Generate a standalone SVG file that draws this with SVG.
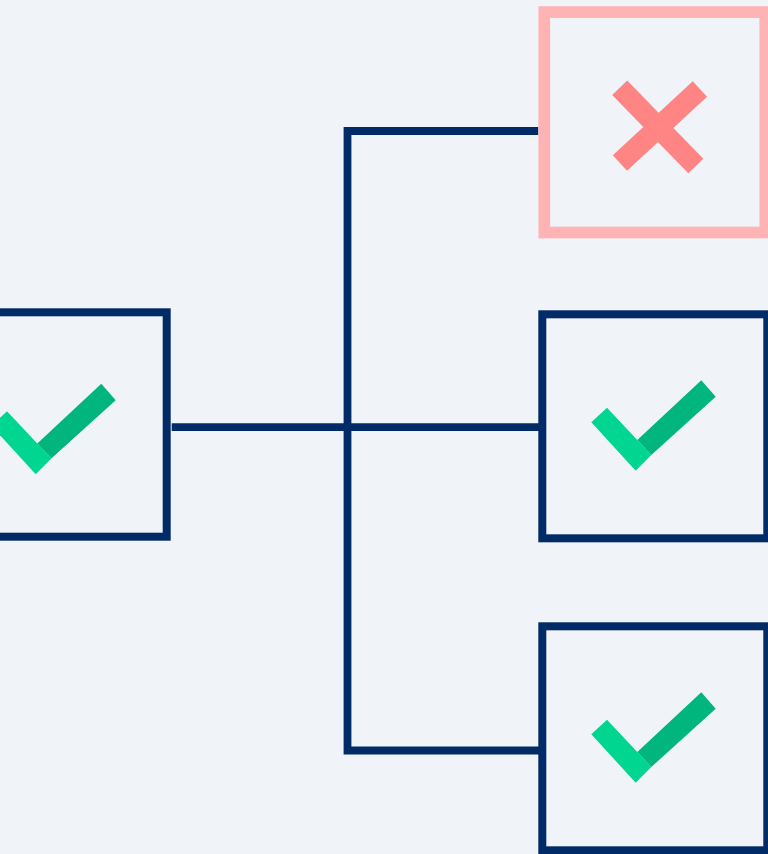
<svg xmlns="http://www.w3.org/2000/svg" xmlns:xlink="http://www.w3.org/1999/xlink" width="768" height="854" viewBox="0 0 768 854">
<style>
.box{fill:none;stroke:#002B66;stroke-width:8}
.bad{fill:none;stroke:#FFB3B5;stroke-width:11.7}
.conn{fill:none;stroke:#002B66;stroke-width:7.8;stroke-linejoin:miter}
.light{fill:#00D690}
.dark{fill:#00B67D}
.x{stroke:#FF8585;stroke-width:21;stroke-linecap:butt}
</style>
<defs>
<g id="check">
<polygon class="light" points="591.3,422.3 607,407.7 637.3,440 651.3,455 635.7,470.7"/>
<polygon class="dark" points="637.3,440 701.3,380.3 715.7,396.7 651.3,455"/>
</g>
</defs>
<rect width="768" height="854" fill="#F0F4F9"/>
<g id="connectors">
<path class="conn" d="M538.3 131 H347.5 V750.5 H542"/>
<path class="conn" d="M171.7 427.2 H542"/>
</g>
<g id="node-left">
<rect class="box" x="-58.3" y="312.3" width="225" height="224.4"/>
<use xlink:href="#check" transform="translate(-600,3.5)"/>
</g>
<g id="node-fail">
<rect class="bad" x="544.3" y="12.1" width="221" height="220.4"/>
<line class="x" x1="619.7" y1="87.7" x2="695.8" y2="166"/>
<line class="x" x1="699.9" y1="89" x2="619.9" y2="163"/>
</g>
<g id="node-mid">
<rect class="box" x="542.3" y="314.3" width="225" height="224"/>
<use xlink:href="#check"/>
</g>
<g id="node-bottom">
<rect class="box" x="542.3" y="626.3" width="225" height="224"/>
<use xlink:href="#check" transform="translate(0,312)"/>
</g>
</svg>
